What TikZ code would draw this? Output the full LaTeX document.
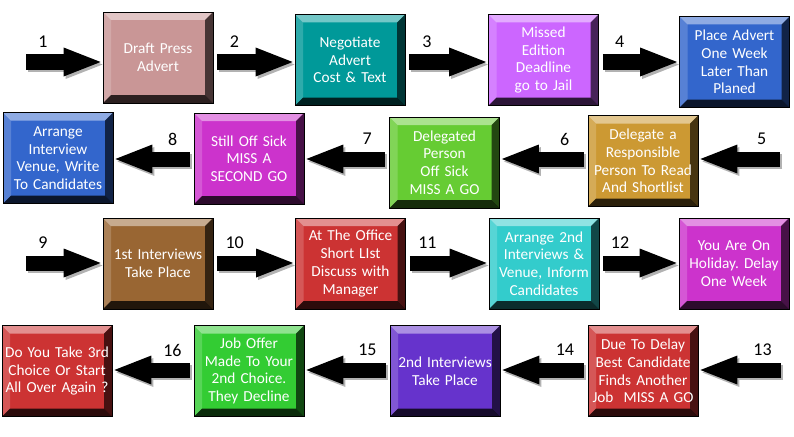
\documentclass[tikz,border=0pt]{standalone}
\usepackage{fontspec}
\setmainfont{Carlito}
\usetikzlibrary{arrows.meta, calc}
\frenchspacing
\definecolor{boxpink}{RGB}{201,150,150}
\definecolor{boxteal}{RGB}{0,153,153}
\definecolor{boxviolet}{RGB}{204,102,255}
\definecolor{boxblue}{RGB}{51,102,204}
\definecolor{boxgold}{RGB}{204,153,51}
\definecolor{boxgreen}{RGB}{102,204,51}
\definecolor{boxmagenta}{RGB}{204,51,204}
\definecolor{boxbrown}{RGB}{153,102,51}
\definecolor{boxred}{RGB}{204,51,51}
\definecolor{boxcyan}{RGB}{51,204,204}
\definecolor{boxpurple}{RGB}{102,51,204}
\definecolor{boxlime}{RGB}{51,204,51}
\newcommand{\cardfont}{\fontsize{15.3}{17.7}\selectfont}
\newcommand{\numfont}{\fontsize{18}{19}\selectfont}
\tikzset{
  card/.style={rectangle, draw=black, line width=0.8pt, fill=#1,
    minimum width=110pt, minimum height=91pt, text width=108pt,
    inner sep=0pt, align=center, text=white, font=\cardfont,
    path picture={
      \path (path picture bounding box.north west) coordinate (pnw)
            (path picture bounding box.north east) coordinate (pne)
            (path picture bounding box.south east) coordinate (pse)
            (path picture bounding box.south west) coordinate (psw);
      % light top and left, dark right and bottom
      \fill[white, opacity=0.45] (pnw) -- (pne) -- ([shift={(-8pt,-8pt)}]pne)
        -- ([shift={(8pt,-8pt)}]pnw) -- cycle;
      \fill[white, opacity=0.18] (pnw) -- ([shift={(8pt,-8pt)}]pnw)
        -- ([shift={(8pt,8pt)}]psw) -- (psw) -- cycle;
      \fill[black, opacity=0.65] (pne) -- (pse) -- ([shift={(-8pt,8pt)}]pse)
        -- ([shift={(-8pt,-8pt)}]pne) -- cycle;
      \fill[black, opacity=0.78] (psw) -- (pse) -- ([shift={(-8pt,8pt)}]pse)
        -- ([shift={(8pt,8pt)}]psw) -- cycle;
    }},
  blockarrow/.style={line width=15pt,
    -{Triangle[length=37pt, width=29pt, line width=0pt]},
    shorten <=4pt, shorten >=2pt},
  arrowshadow/.style={blockarrow, draw=black!30,
    transform canvas={shift={(2pt,-2.5pt)}}},
  stepnum/.style={pos=0.26, yshift=20pt, font=\numfont, text=black}
}
\begin{document}
\begin{tikzpicture}[x=1pt, y=-1pt]
  \useasboundingbox (0,0) rectangle (794,436);
  % row 1
  \node[card=boxpink]   (b1) at (158,57.5) {Draft Press\\Advert};
  \node[card=boxteal]   (b2) at (350,60)   {Negotiate\\Advert\\Cost \& Text};
  \node[card=boxviolet] (b3) at (543.5,60) {Missed\\Edition\\Deadline\\go to Jail};
  \node[card=boxblue]   (b4) at (734.5,62) {Place Advert\\One Week\\Later Than\\Planed};
  % row 2
  \node[card=boxgold]    (b5) at (643,161)   {Delegate a\\Responsible\\Person To Read\\And Shortlist};
  \node[card=boxgreen]   (b6) at (444.5,162.5) {Delegated\\Person\\Off Sick\\MISS A GO};
  \node[card=boxmagenta] (b7) at (249,158.5) {Still Off Sick\\MISS A\\SECOND GO};
  \node[card=boxblue]    (b8) at (58,158)    {Arrange\\Interview\\Venue, Write\\To Candidates};
  % row 3
  \node[card=boxbrown]   (b9)  at (158,263.5)   {1st Interviews\\Take Place};
  \node[card=boxred]     (b10) at (350.5,263.5) {At The Office\\Short LIst\\Discuss with\\Manager};
  \node[card=boxcyan]    (b11) at (544,263.5)   {Arrange 2nd\\Interviews \&\\Venue, Inform\\Candidates};
  \node[card=boxmagenta] (b12) at (734,263.5)   {You Are On\\Holiday. Delay\\One Week};
  % row 4
  \node[card=boxred]    (b13) at (643,371) {Due To Delay\\Best Candidate\\Finds Another\\Job\ \ MISS A GO};
  \node[card=boxpurple] (b14) at (445,371) {2nd Interviews\\Take Place};
  \node[card=boxlime]   (b15) at (249,371) {Job Offer\\Made To Your\\2nd Choice.\\They Decline};
  \node[card=boxred]    (b16) at (57,371)  {Do You Take 3rd\\Choice Or Start\\All Over Again ?};
  % free arrow tails, one per row
  \coordinate (r1) at (22,62);
  \coordinate (r2) at (784,159);
  \coordinate (r3) at (22,263);
  \coordinate (r4) at (785,370);
  % numbered arrows
  \foreach \a/\b/\r/\n in {r1/b1.west/r1/1, b1.east/b2.west/r1/2,
      b2.east/b3.west/r1/3, b3.east/b4.west/r1/4,
      r2/b5.east/r2/5, b5.west/b6.east/r2/6,
      b6.west/b7.east/r2/7, b7.west/b8.east/r2/8,
      r3/b9.west/r3/9, b9.east/b10.west/r3/10,
      b10.east/b11.west/r3/11, b11.east/b12.west/r3/12,
      r4/b13.east/r4/13, b13.west/b14.east/r4/14,
      b14.west/b15.east/r4/15, b15.west/b16.east/r4/16}
  {
    \draw[arrowshadow] (\a |- \r) -- (\b |- \r);
    \draw[blockarrow] (\a |- \r) -- (\b |- \r) node[stepnum] {\n};
  }
\end{tikzpicture}
\end{document}
